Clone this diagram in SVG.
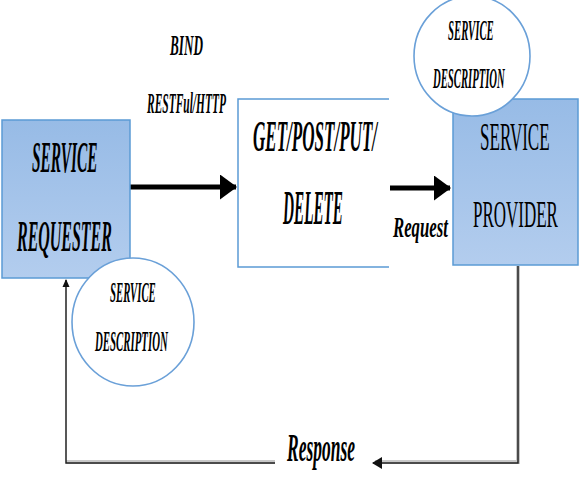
<svg xmlns="http://www.w3.org/2000/svg" width="580" height="492" viewBox="0 0 580 492">
<defs>
<linearGradient id="blue" x1="0" y1="0" x2="0" y2="1">
<stop offset="0" stop-color="#97bbe6"/>
<stop offset="1" stop-color="#b3cdee"/>
</linearGradient>
<marker id="thick" markerWidth="4" markerHeight="5" refX="3.2" refY="2.5" orient="auto" markerUnits="strokeWidth">
<path d="M0,0 L3.4,2.5 L0,5 Z" fill="#000"/>
</marker>
<marker id="thin" markerWidth="8" markerHeight="8" refX="7" refY="4" orient="auto" markerUnits="userSpaceOnUse">
<path d="M0,0.5 L8,4 L0,7.5 Z" fill="#111"/>
</marker>
<marker id="thin2" markerWidth="10" markerHeight="12" refX="9" refY="6" orient="auto" markerUnits="userSpaceOnUse">
<path d="M0,0 L10,6 L0,12 Z" fill="#111"/>
</marker>
</defs>
<style>
.box{fill:url(#blue);stroke:#5b9bd5;stroke-width:1.5}
.circ{fill:#fff;stroke:#6aa0d8;stroke-width:1.6}
.t{font-family:"Liberation Serif","Times New Roman",serif;font-weight:bold;fill:#000}
.i{font-style:italic}
.n{font-weight:normal}
</style>
<g id="connectors" fill="none">
<line x1="130" y1="187" x2="236" y2="187" stroke="#000" stroke-width="5" marker-end="url(#thick)"/>
<line x1="390" y1="188" x2="450" y2="188" stroke="#000" stroke-width="5" marker-end="url(#thick)"/>
<polyline points="518,266 518,462 375,462" stroke="#c8c8c8" stroke-width="4"/>
<polyline points="518,266 518,463 373,463" stroke="#222" stroke-width="1.5" marker-end="url(#thin2)"/>
<line x1="275" y1="462" x2="66" y2="462" stroke="#c8c8c8" stroke-width="4"/>
<polyline points="275,463 66,463 66,280" stroke="#222" stroke-width="1.5" marker-end="url(#thin)"/>
</g>
<g id="requester">
<rect class="box" x="2" y="120" width="128" height="158"/>
<text class="t i" transform="translate(32 172) scale(0.35 1)" font-size="44">SERVICE</text>
<text class="t i" transform="translate(17 251) scale(0.363 1)" font-size="44">REQUESTER</text>
</g>
<g id="desc-bottom">
<ellipse class="circ" cx="133" cy="322" rx="61" ry="64"/>
<text class="t i" transform="translate(110 302) scale(0.358 1)" font-size="30">SERVICE</text>
<text class="t i" transform="translate(95 351) scale(0.361 1)" font-size="30">DESCRIPTION</text>
</g>
<g id="methods">
<path d="M389,99 H238 V267 H389" fill="#fff" stroke="#5b9bd5" stroke-width="1.5"/>
<text class="t i" transform="translate(253 151) scale(0.379 1)" font-size="45">GET/POST/PUT/</text>
<text class="t i" transform="translate(283 224) scale(0.317 1)" font-size="48">DELETE</text>
</g>
<g id="provider">
<rect class="box" x="453" y="99" width="125" height="166"/>
<text class="t n" transform="translate(480 150) scale(0.416 1)" font-size="41">SERVICE</text>
<text class="t n" transform="translate(473 227) scale(0.447 1)" font-size="38">PROVIDER</text>
</g>
<g id="desc-top">
<ellipse class="circ" cx="472" cy="56" rx="58" ry="60"/>
<text class="t i" transform="translate(448 40) scale(0.358 1)" font-size="30">SERVICE</text>
<text class="t i" transform="translate(433 88) scale(0.356 1)" font-size="30">DESCRIPTION</text>
</g>
<g id="labels">
<text class="t i" transform="translate(170 55) scale(0.44 1)" font-size="30">BIND</text>
<text class="t i" transform="translate(147 113) scale(0.382 1)" font-size="30">RESTFul/HTTP</text>
<text class="t i" transform="translate(393 237) scale(0.559 1)" font-size="30">Request</text>
<text class="t i" transform="translate(287 461) scale(0.437 1)" font-size="40">Response</text>
</g>
</svg>
